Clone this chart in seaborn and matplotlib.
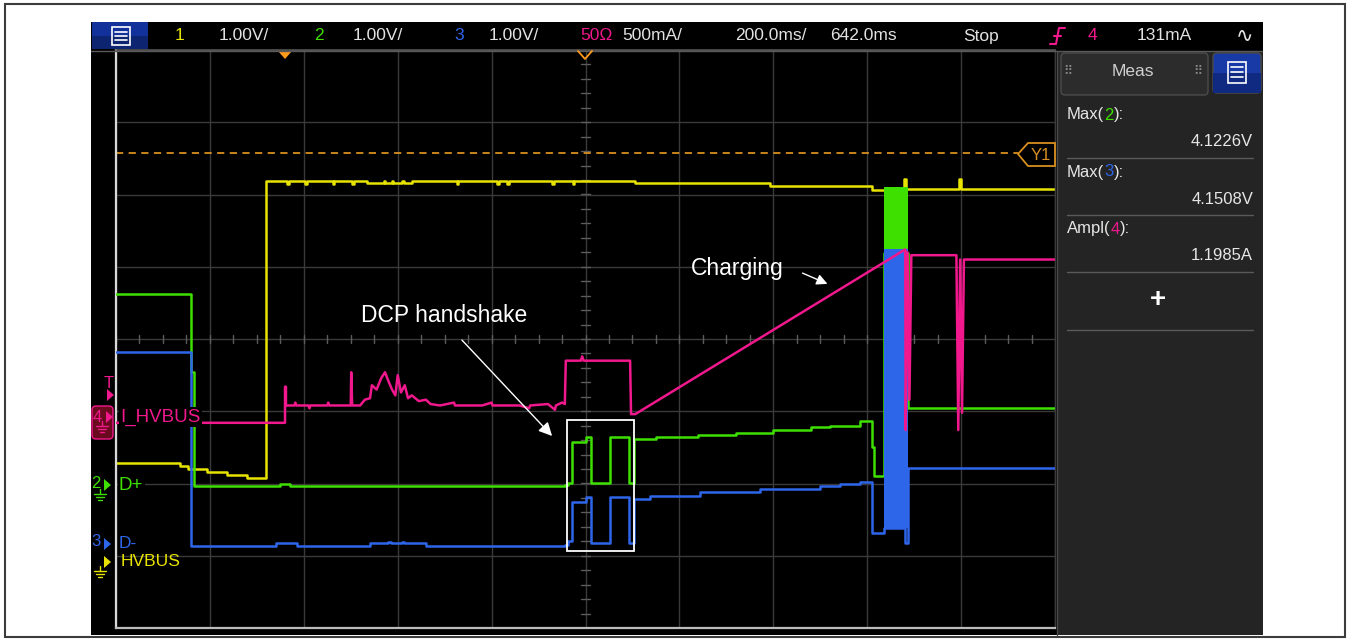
"""
Scope capture: USB DCP handshake followed by charging
Recreated with seaborn / matplotlib
"""

import numpy as np
import pandas as pd
import matplotlib.pyplot as plt
import seaborn as sns
from matplotlib.patches import Rectangle, Polygon, FancyBboxPatch

# ---- timebase: 200 ms/div, 10 divisions, delay 642 ms ----
TIME_PER_DIV = 200
TIME_LEFT = -360
N_XDIV, N_YDIV = 10, 8

# ---- channel setup (ground marker position in divisions, units per division) ----
CH1 = dict(label="HVBUS", color="#e8e400", ground=-3.03, scale=1.0)    # VBUS, V
CH2 = dict(label="D+", color="#3ee000", ground=-2.03, scale=1.0)       # D+, V
CH3 = dict(label="D-", color="#2e66ea", ground=-2.86, scale=1.0)       # D-, V
CH4 = dict(label="I_HVBUS", color="#f0188c", ground=-1.14, scale=0.5)  # current, A

# ---- waveforms (time in ms) ----
vbus_t = [-360, -224, -207, -166, -124, -81, -40, 4, 8, 43, 46, 102, 105, 143, 146,
          175, 210, 213, 228, 231, 250, 253, 270, 290, 366, 369, 452, 455, 473, 476,
          569, 572, 613, 616, 746, 1033, 1250, 1318, 1322, 1436, 1440, 1640]
vbus_v = [1.31, 1.27, 1.23, 1.19, 1.15, 1.10, 5.22, 5.18, 5.22, 5.18, 5.22, 5.18, 5.22, 5.18, 5.22,
          5.19, 5.22, 5.19, 5.22, 5.19, 5.22, 5.19, 5.21, 5.22, 5.18, 5.22, 5.18, 5.22, 5.18, 5.22,
          5.18, 5.22, 5.18, 5.22, 5.19, 5.15, 5.09, 5.24, 5.10, 5.24, 5.10, 5.10]

dplus_t = [-360, -200, -194, -11, 11, 596, 603, 611, 641, 652, 692, 733, 743, 790, 880,
           960, 1040, 1120, 1160, 1225, 1250, 1255, 1276, 1327, 1640]
dplus_v = [2.65, 1.57, 0.00, 0.03, 0.00, 0.01, 0.04, 0.60, 0.68, 0.04, 0.68, 0.04, 0.64, 0.67, 0.70,
           0.73, 0.77, 0.81, 0.83, 0.89, 0.53, 0.14, 3.22, 1.08, 1.08]

dminus_t = [-360, -200, -20, 25, 180, 220, 225, 250, 254, 300, 596, 603, 611, 641, 652,
            692, 733, 743, 777, 884, 1012, 1140, 1182, 1225, 1250, 1276, 1321, 1326, 1640]
dminus_v = [2.68, 0.00, 0.04, 0.00, 0.03, 0.05, 0.03, 0.05, 0.03, 0.00, 0.01, 0.07, 0.60, 0.68, 0.04,
            0.68, 0.04, 0.64, 0.69, 0.74, 0.79, 0.83, 0.85, 0.875, 0.17, 0.25, 0.03, 1.08, 1.08]

ihv_t = [-360, 0, 0, 2, 2, 20, 22, 24, 50, 52, 54, 90, 92, 94, 140, 141, 143,
         160, 170, 181, 185, 195, 205, 213, 220, 228, 235, 240, 247, 255, 262, 270, 285, 300, 310, 330,
         360, 362, 420, 440, 442, 500, 520, 522, 560, 575, 577, 590, 596, 598, 630, 633, 636,
         735, 737, 746, 1321, 1322, 1326, 1330, 1334, 1430, 1434, 1438, 1442, 1446, 1640]
ihv_a = [-0.01, -0.01, 0.24, 0.24, 0.11, 0.11, 0.13, 0.11, 0.11, 0.09, 0.11, 0.11, 0.13, 0.11, 0.11, 0.34, 0.11,
         0.11, 0.15, 0.16, 0.25, 0.22, 0.30, 0.34, 0.28, 0.22, 0.18, 0.32, 0.20, 0.25, 0.16, 0.18, 0.14, 0.15, 0.12, 0.11,
         0.13, 0.11, 0.11, 0.13, 0.11, 0.11, 0.09, 0.11, 0.12, 0.08, 0.11, 0.13, 0.12, 0.42, 0.42, 0.45, 0.42,
         0.42, 0.05, 0.05, 1.19, -0.06, 1.17, 0.15, 1.15, 1.15, -0.06, 1.12, 0.06, 1.12, 1.12]

# switching burst when the phone starts charging (shown as a solid block)
burst_t = [1276, 1327]
dplus_burst = [3.22, 4.14]
dminus_burst = [0.25, 4.10]

# cursor Y1 (screen divisions)
y1_level = 2.57

# measurement panel
meas_names = [("Max(", "2", "):"), ("Max(", "3", "):"), ("Ampl(", "4", "):")]
meas_values = ["4.1226V", "4.1508V", "1.1985A"]

# top status bar
status_items = [
    (175, "1", CH1["color"]), (219, "1.00V/", "#e2e2e2"),
    (314, "2", CH2["color"]), (353, "1.00V/", "#e2e2e2"),
    (454, "3", CH3["color"]), (489, "1.00V/", "#e2e2e2"),
    (580, "50Ω", CH4["color"]), (622, "500mA/", "#e2e2e2"),
    (735, "200.0ms/", "#e2e2e2"), (830, "642.0ms", "#e2e2e2"),
    (963, "Stop", "#e2e2e2"), (1088, "4", CH4["color"]), (1137, "131mA", "#e2e2e2"),
]

W, H = 1350, 640

sns.set_theme(style="dark")
plt.rcParams["font.family"] = ["Liberation Sans", "DejaVu Sans"]

fig = plt.figure(figsize=(W / 100, H / 100), dpi=100)
fig.patch.set_facecolor("white")

# background layer in pixel coordinates
bg = fig.add_axes([0, 0, 1, 1], zorder=0)
bg.set_xlim(0, W)
bg.set_ylim(H, 0)
bg.axis("off")
bg.add_patch(Rectangle((5, 4), 1340, 633, fill=False, ec="#3c3c3c", lw=1.5))
bg.add_patch(Rectangle((91, 22), 1172, 613, fc="black", ec="none"))

# graticule
gl, gt, gr, gb = 116, 50, 1055, 628
ax = fig.add_axes([gl / W, 1 - gb / H, (gr - gl) / W, (gb - gt) / H], zorder=1)
ax.set_facecolor("black")
ax.set_xlim(TIME_LEFT, TIME_LEFT + N_XDIV * TIME_PER_DIV)
ax.set_ylim(-N_YDIV / 2, N_YDIV / 2)
ax.set_xticks(np.arange(TIME_LEFT, TIME_LEFT + N_XDIV * TIME_PER_DIV + 1, TIME_PER_DIV))
ax.set_yticks(np.arange(-N_YDIV / 2, N_YDIV / 2 + 1))
ax.tick_params(length=0, labelbottom=False, labelleft=False)
ax.grid(True, color="#3a3a3a", lw=1.0)
for side, col, lw in [("left", "#d8d8d8", 1.6), ("bottom", "#bcbcbc", 1.6),
                      ("top", "#555555", 1.2), ("right", "#3a3a3a", 1.0)]:
    ax.spines[side].set_visible(True)
    ax.spines[side].set_color(col)
    ax.spines[side].set_linewidth(lw)

# minor ticks on the centre axes
t_mid = TIME_LEFT + N_XDIV * TIME_PER_DIV / 2
for t in np.arange(TIME_LEFT, TIME_LEFT + N_XDIV * TIME_PER_DIV, TIME_PER_DIV / 4):
    ax.plot([t, t], [-0.06, 0.06], color="#5c5c5c", lw=1)
for v in np.arange(-N_YDIV / 2, N_YDIV / 2, 0.2):
    ax.plot([t_mid - 9, t_mid + 9], [v, v], color="#5c5c5c", lw=1)

# cursor Y1
ax.axhline(y1_level, xmax=(1018 - gl) / (gr - gl), color="#d8901e", lw=1.3, ls=(0, (4, 3)))


def screen(ch, values):
    return [ch["ground"] + v / ch["scale"] for v in values]


traces = [
    (CH1, vbus_t, vbus_v, "steps-post", 2),
    (CH2, dplus_t, dplus_v, "steps-post", 3),
    (CH3, dminus_t, dminus_v, "steps-post", 4),
    (CH4, ihv_t, ihv_a, "default", 6),
]
for ch, t, v, style, z in traces:
    df = pd.DataFrame({"t": t, "y": screen(ch, v)})
    sns.lineplot(data=df, x="t", y="y", ax=ax, color=ch["color"], lw=1.8,
                 estimator=None, sort=False, drawstyle=style, zorder=z)

ax.fill_between(burst_t, *[screen(CH2, [b])[0] for b in dplus_burst],
                color=CH2["color"], lw=0, zorder=3.5)
ax.fill_between(burst_t, *[screen(CH3, [b])[0] for b in dminus_burst],
                color=CH3["color"], lw=0, zorder=4.5)
ax.set_xlabel("")
ax.set_ylabel("")

# overlay layer (labels, annotations, panels) in pixel coordinates
ov = fig.add_axes([0, 0, 1, 1], zorder=3)
ov.set_xlim(0, W)
ov.set_ylim(H, 0)
ov.axis("off")
ov.patch.set_visible(False)

# status bar
ov.add_patch(Rectangle((92, 22), 56, 27, fc="#13319a", ec="none"))
ov.add_patch(Rectangle((92, 36), 56, 13, fc="#0d2470", ec="none"))
ov.add_patch(Rectangle((112, 27), 18, 18, fill=False, ec="white", lw=1.2))
for yy in (32, 36, 40):
    ov.plot([115, 127], [yy, yy], color="white", lw=1.2)
for x, s, c in status_items:
    ov.text(x, 36, s, color=c, fontsize=12.5, va="center", ha="left")
ov.plot([1050, 1056, 1059, 1065], [44, 44, 28, 28], color=CH4["color"], lw=1.5)
ov.plot([1054, 1061], [36, 36], color=CH4["color"], lw=1.5)
ov.text(1236, 36, "∿", color="#e2e2e2", fontsize=15, va="center", ha="left",
        family=["DejaVu Sans"])
ov.plot([91, 1262], [50.5, 50.5], color="#5a5a5a", lw=1)

# trigger position markers
ov.add_patch(Polygon([(278, 51), (292, 51), (285, 59)], fc="#ff9a1a", ec="none"))
ov.plot([578, 585, 592], [51, 59, 51], color="#ff9a1a", lw=1.3)

# Y1 tag
ov.add_patch(Polygon([(1018, 154), (1028, 143), (1055, 143), (1055, 166), (1028, 166)],
                     fc="black", ec="#d8901e", lw=1.3))
ov.text(1041, 155, "Y1", color="#d8901e", fontsize=12, va="center", ha="center")


def ground(x, y, color):
    ov.plot([x, x], [y, y + 5], color=color, lw=1)
    for i, w in enumerate([6, 4, 2]):
        ov.plot([x - w, x + w], [y + 5 + 3 * i] * 2, color=color, lw=1)


def marker(x, y, color):
    ov.add_patch(Polygon([(x, y - 6), (x, y + 6), (x + 7, y)], fc=color, ec="none"))


# channel labels on the left
ov.text(104, 383, "T", color=CH4["color"], fontsize=12, va="center")
marker(107, 395, CH4["color"])
ov.add_patch(FancyBboxPatch((92, 406), 21, 33, boxstyle="round,pad=0,rounding_size=4",
                            fc="#6a0a1e", ec=CH4["color"], lw=1))
ov.text(93, 417, "4", color=CH4["color"], fontsize=12, va="center")
marker(106, 417, CH4["color"])
ground(102, 421, CH4["color"])
ov.text(120, 417, "I_HVBUS", color=CH4["color"], fontsize=13.5, va="center",
        bbox=dict(fc="black", ec="none", pad=1))

ov.text(91, 484, "2", color=CH2["color"], fontsize=12, va="center")
marker(104, 485, CH2["color"])
ground(100, 489, CH2["color"])
ov.text(119, 485, "D+", color=CH2["color"], fontsize=13.5, va="center",
        bbox=dict(fc="black", ec="none", pad=1))

marker(104, 562, CH1["color"])
ground(100, 566, CH1["color"])
ov.text(121, 562, "HVBUS", color=CH1["color"], fontsize=12.5, va="center")
ov.text(91, 542, "3", color=CH3["color"], fontsize=12, va="center")
marker(104, 544, CH3["color"])
ov.text(119, 543, "D-", color=CH3["color"], fontsize=12.5, va="center",
        bbox=dict(fc="black", ec="none", pad=0.5))

# annotations
ov.add_patch(Rectangle((567, 420), 67, 131, fill=False, ec="white", lw=1.3))
ov.text(361, 316, "DCP handshake", color="white", fontsize=16.5, va="center", ha="left")
ov.annotate("", xy=(554, 438), xytext=(460, 338),
            arrowprops=dict(arrowstyle="-|>", color="white", lw=1, mutation_scale=20))
ov.text(691, 268, "Charging", color="white", fontsize=16.5, va="center", ha="left")
ov.annotate("", xy=(830, 285), xytext=(800, 272),
            arrowprops=dict(arrowstyle="-|>", color="white", lw=1, mutation_scale=16))

# measurement panel
ov.add_patch(Rectangle((1057, 51), 206, 584, fc="#242424", ec="none"))
ov.plot([1057, 1057], [51, 635], color="#4a4a4a", lw=1)
ov.add_patch(FancyBboxPatch((1061, 53), 147, 42, boxstyle="round,pad=0,rounding_size=4",
                            fc="#2c2c2c", ec="#4c4c4c", lw=1))
ov.add_patch(FancyBboxPatch((1213, 53), 48, 40, boxstyle="round,pad=0,rounding_size=4",
                            fc="#173aa6", ec="#4c4c4c", lw=1))
ov.add_patch(Rectangle((1213, 73), 48, 20, fc="#0f2a80", ec="none"))
ov.add_patch(Rectangle((1228, 62), 18, 21, fill=False, ec="white", lw=1.2))
for yy in (67, 72, 77):
    ov.plot([1231, 1243], [yy, yy], color="white", lw=1.2)
ov.text(1133, 72, "Meas", color="#cfcfcf", fontsize=12.5, va="center", ha="center")
for xx in (1068, 1198):
    ov.text(xx, 71, "⠿", color="#8a8a8a", fontsize=9, va="center", ha="center",
            family=["DejaVu Sans"])

meas_colors = {"2": CH2["color"], "3": CH3["color"], "4": CH4["color"]}
for i, ((a, n, b), val) in enumerate(zip(meas_names, meas_values)):
    y0 = 115 + 57 * i
    t1 = ov.text(1067, y0, a, color="#e6e6e6", fontsize=12, va="center", ha="left")
    t2 = ov.annotate(n, xy=(1, 0.5), xycoords=t1, color=meas_colors[n], fontsize=12,
                     va="center", ha="left")
    ov.annotate(b, xy=(1, 0.5), xycoords=t2, color="#e6e6e6", fontsize=12,
                va="center", ha="left")
    ov.text(1253, y0 + 27, val, color="#e6e6e6", fontsize=12, va="center", ha="right")
    ov.plot([1067, 1253], [y0 + 43, y0 + 43], color="#5a5a5a", lw=1)
ov.text(1158, 300, "+", color="white", fontsize=20, fontweight="bold", va="center", ha="center")
ov.plot([1067, 1253], [330, 330], color="#5a5a5a", lw=1)

fig.savefig("out.png", dpi=100, facecolor="white")
plt.close(fig)
